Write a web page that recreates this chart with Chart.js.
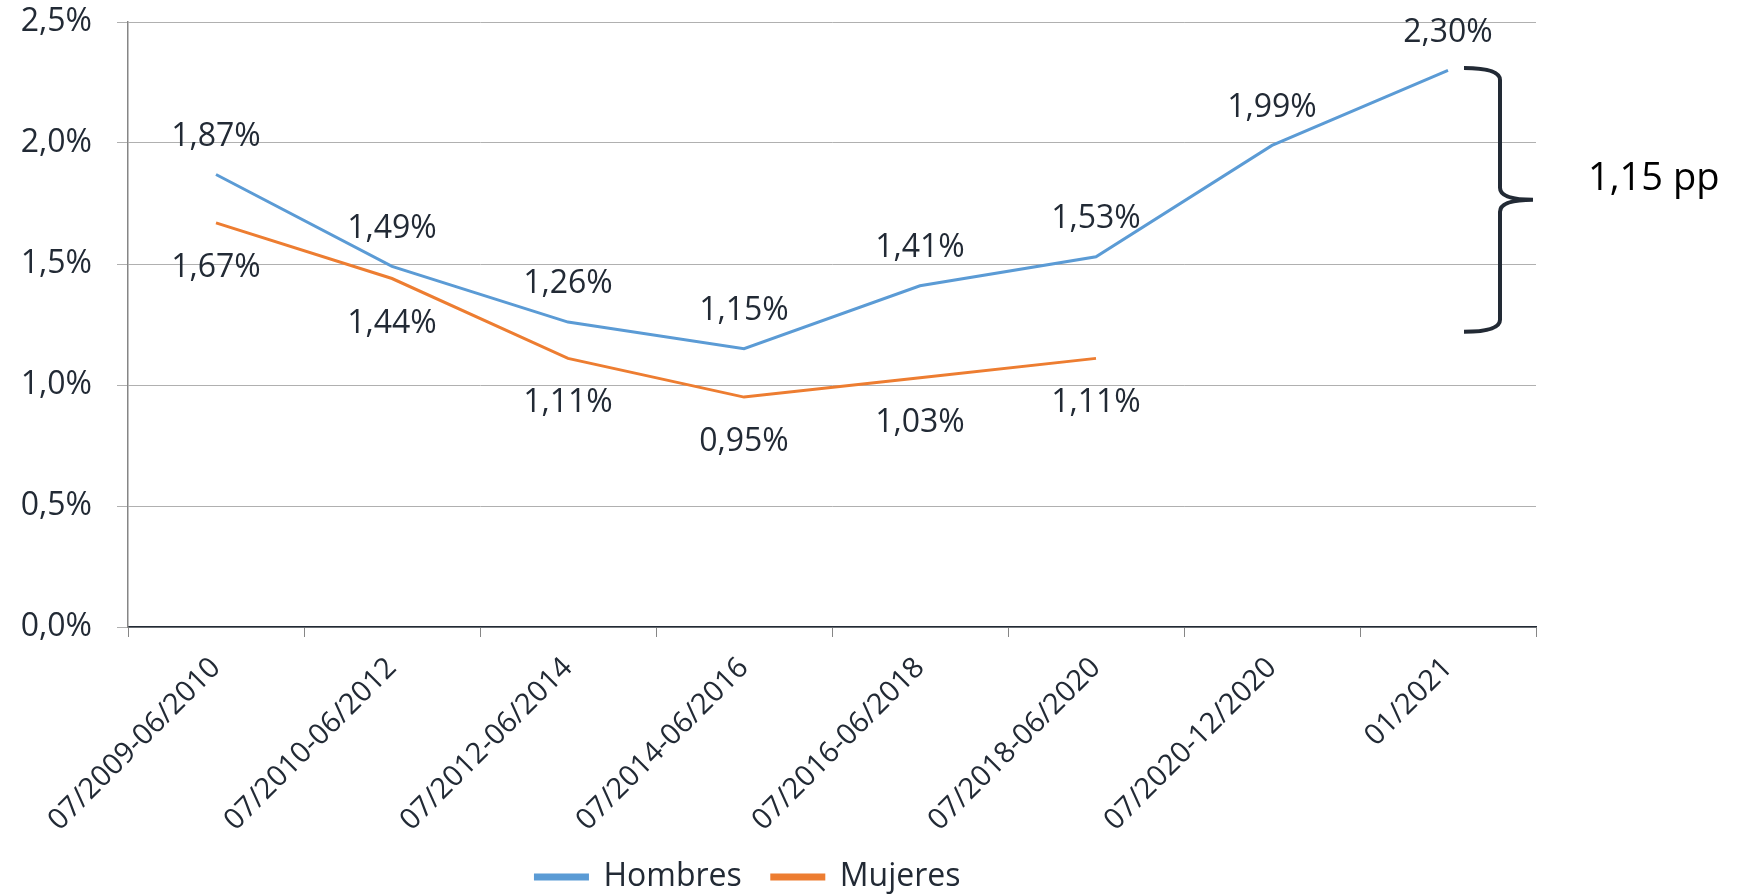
<!DOCTYPE html>
<html>
<head>
<meta charset="utf-8">
<script src="https://cdn.jsdelivr.net/npm/chart.js@4.4.1/dist/chart.umd.min.js"></script>
<style>
  html, body { margin: 0; padding: 0; background: #ffffff; }
  #wrap { width: 1747px; height: 894px; position: relative; }
</style>
</head>
<body>
<div id="wrap"><canvas id="line-chart"></canvas></div>
<script>
const periods = [
  "07/2009-06/2010",
  "07/2010-06/2012",
  "07/2012-06/2014",
  "07/2014-06/2016",
  "07/2016-06/2018",
  "07/2018-06/2020",
  "07/2020-12/2020",
  "01/2021"
];
const hombres = [1.87, 1.49, 1.26, 1.15, 1.41, 1.53, 1.99, 2.30];
const mujeres = [1.67, 1.44, 1.11, 0.95, 1.03, 1.11, null, null];
const yTicks = [0, 0.5, 1.0, 1.5, 2.0, 2.5];
const gapText = "1,15 pp";
const braceTop = 2.31;
const braceBottom = 1.22;

const textColor = "#222a35";
const fontFamily = "'Open Sans', 'Noto Sans', sans-serif";
const fontSize = 32;

const fmtPct = (v, d) => v.toFixed(d).replace(".", ",") + "%";

// value labels above (Hombres) and below (Mujeres) each point
const valueLabels = {
  id: "valueLabels",
  afterDatasetsDraw(chart) {
    const ctx = chart.ctx;
    ctx.save();
    ctx.font = fontSize + "px " + fontFamily;
    ctx.fillStyle = textColor;
    ctx.textAlign = "center";
    ctx.textBaseline = "middle";
    chart.data.datasets.forEach((ds, i) => {
      const meta = chart.getDatasetMeta(i);
      const shift = i === 0 ? -38 : 45;
      meta.data.forEach((pt, j) => {
        const v = ds.data[j];
        if (v === null || v === undefined) return;
        ctx.fillText(fmtPct(v, 2), pt.x, pt.y + shift);
      });
    });
    ctx.restore();
  }
};

// curly brace and gap text on the right
const gapBrace = {
  id: "gapBrace",
  afterDraw(chart) {
    const ctx = chart.ctx;
    const y = chart.scales.y;
    const area = chart.chartArea;
    const yT = y.getPixelForValue(braceTop);
    const yB = y.getPixelForValue(braceBottom);
    const yM = (yT + yB) / 2;
    const x0 = area.right - 72;
    const xv = area.right - 36;
    const xt = area.right - 3;
    const r = 12;
    ctx.save();
    ctx.strokeStyle = textColor;
    ctx.lineWidth = 4;
    ctx.beginPath();
    ctx.moveTo(x0, yT);
    ctx.quadraticCurveTo(xv, yT, xv, yT + r);
    ctx.lineTo(xv, yM - r);
    ctx.quadraticCurveTo(xv, yM, xt, yM);
    ctx.moveTo(xt, yM);
    ctx.quadraticCurveTo(xv, yM, xv, yM + r);
    ctx.lineTo(xv, yB - r);
    ctx.quadraticCurveTo(xv, yB, x0, yB);
    ctx.stroke();
    ctx.font = "38px " + fontFamily;
    ctx.fillStyle = "#000000";
    ctx.textAlign = "left";
    ctx.textBaseline = "middle";
    ctx.fillText(gapText, area.right + 52, yM - 21);
    ctx.restore();
  }
};

// nudge the legend a little to the left, as in the original
const legendShift = {
  id: "legendShift",
  afterLayout(chart) {
    chart.legend.left -= 20;
    chart.legend.right -= 20;
  }
};

const ctx = document.getElementById("line-chart").getContext("2d");

new Chart(ctx, {
  type: "line",
  data: {
    labels: periods,
    datasets: [
      {
        label: "Hombres",
        data: hombres,
        borderColor: "#5b9bd5",
        backgroundColor: "#5b9bd5",
        borderWidth: 3,
        pointRadius: 0,
        tension: 0
      },
      {
        label: "Mujeres",
        data: mujeres,
        borderColor: "#ed7d31",
        backgroundColor: "#ed7d31",
        borderWidth: 3,
        pointRadius: 0,
        tension: 0,
        spanGaps: false
      }
    ]
  },
  options: {
    responsive: true,
    maintainAspectRatio: false,
    animation: false,
    layout: {
      padding: { left: 0, right: 211, top: 22, bottom: -9 }
    },
    plugins: {
      legend: {
        position: "bottom",
        labels: {
          boxWidth: 52,
          boxHeight: 4,
          padding: 30,
          color: textColor,
          font: { family: fontFamily, size: fontSize }
        }
      },
      tooltip: { enabled: false }
    },
    scales: {
      x: {
        offset: true,
        afterFit: (scale) => {
          scale.height = 204;
        },
        grid: {
          offset: true,
          drawOnChartArea: false,
          drawTicks: true,
          tickLength: 10,
          color: "#868686"
        },
        border: { color: textColor, width: 1.5 },
        ticks: {
          autoSkip: false,
          minRotation: 45,
          maxRotation: 45,
          padding: 14,
          color: textColor,
          font: { family: fontFamily, size: 29 }
        }
      },
      y: {
        min: 0,
        max: 2.5,
        afterBuildTicks: (scale) => {
          scale.ticks = yTicks.map((v) => ({ value: v }));
        },
        afterFit: (scale) => {
          scale.width = 128;
          scale.paddingTop = 0;
          scale.paddingBottom = 0;
        },
        grid: {
          color: "#b0b0b0",
          lineWidth: 1,
          drawTicks: true,
          tickLength: 11
        },
        border: { color: "#868686", width: 1.5 },
        ticks: {
          padding: 25,
          color: textColor,
          font: { family: fontFamily, size: fontSize },
          callback: (v) => fmtPct(v, 1)
        }
      }
    }
  },
  plugins: [valueLabels, gapBrace, legendShift]
});
</script>
</body>
</html>
